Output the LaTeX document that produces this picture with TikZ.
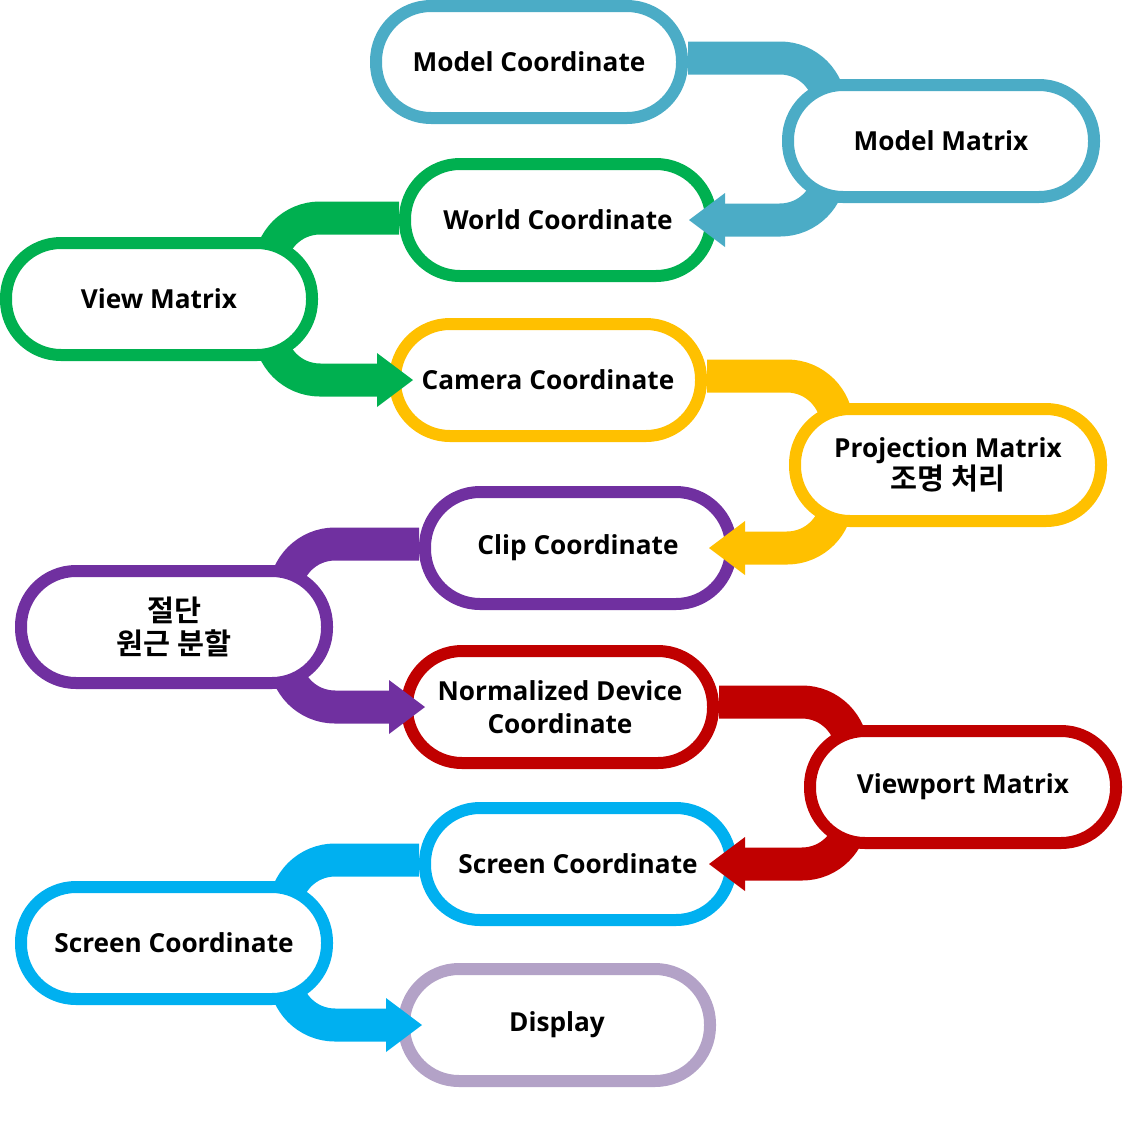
\documentclass[tikz,border=0pt]{standalone}
\usepackage{fontspec}
\setmainfont{Open Sans}
\newfontfamily\krfont{Noto Sans CJK KR}[BoldFont={Noto Sans CJK KR Bold}, Scale=1.12]
\usepackage{tikz}
\usetikzlibrary{arrows.meta}

\definecolor{ModelBlue}{HTML}{4BACC6}
\definecolor{WorldGreen}{HTML}{00B050}
\definecolor{CameraYellow}{HTML}{FFC000}
\definecolor{ClipPurple}{HTML}{7030A0}
\definecolor{DeviceRed}{HTML}{C00000}
\definecolor{ScreenBlue}{HTML}{00B0F0}
\definecolor{DisplayLilac}{HTML}{B3A2C7}

\pgfdeclarelayer{front}
\pgfsetlayers{main,front}

\begin{document}
\begin{tikzpicture}[x=1pt, y=-1pt,
        stage/.style={draw, line width=12pt, fill=white, rounded corners=55pt,
            minimum width=306pt, minimum height=112pt, align=center,
            font=\fontsize{26.2}{32.5}\selectfont\bfseries},
        flow/.style={line width=33pt, rounded corners=50pt,
            -{Triangle[length=36pt, width=54pt, line width=0pt]}}]
        \useasboundingbox (0,0) rectangle (1136,1128);

        \node[stage, draw=ModelBlue] (ModelCoord) at (529,62) {Model Coordinate};
        \node[stage, draw=WorldGreen] (WorldCoord) at (558,220) {World Coordinate};
        \node[stage, draw=CameraYellow] (CameraCoord) at (548,380) {Camera Coordinate};
        \node[stage, draw=ClipPurple] (ClipCoord) at (578,548) {Clip Coordinate};
        \node[stage, draw=DeviceRed] (DeviceCoord) at (560,707) {Normalized Device\\Coordinate};
        \node[stage, draw=ScreenBlue] (ScreenCoord) at (578,864) {Screen Coordinate};
        \node[stage, draw=DisplayLilac] (Display) at (557,1025) {Display};

        \begin{pgfonlayer}{front}
        \node[stage, draw=ModelBlue] (ModelMatrix) at (941,141) {Model Matrix};
        \node[stage, draw=WorldGreen] (ViewMatrix) at (159,299) {View Matrix};
        \node[stage, draw=CameraYellow] (ProjMatrix) at (948,465) {Projection Matrix\\\krfont 조명 처리};
        \node[stage, draw=ClipPurple] (PerspDivide) at (174,627) {\krfont 절단\\\krfont 원근 분할};
        \node[stage, draw=DeviceRed] (ViewportMatrix) at (963,787) {Viewport Matrix};
        \node[stage, draw=ScreenBlue] (ScreenMap) at (174,943) {Screen Coordinate};
        \end{pgfonlayer}

        \draw[flow, ModelBlue] ([yshift=4pt]ModelCoord.east) -| ([xshift=48pt]ModelMatrix.west) |- ([xshift=-28pt]WorldCoord.east);
        \draw[flow, WorldGreen] ([yshift=2pt]WorldCoord.west) -| ([xshift=-48pt]ViewMatrix.east) |- ([xshift=24pt]CameraCoord.west);
        \draw[flow, CameraYellow] ([yshift=4pt]CameraCoord.east) -| ([xshift=48pt]ProjMatrix.west) |- ([xshift=-28pt]ClipCoord.east);
        \draw[flow, ClipPurple] ([yshift=4pt]ClipCoord.west) -| ([xshift=-48pt]PerspDivide.east) |- ([xshift=24pt]DeviceCoord.west);
        \draw[flow, DeviceRed] ([yshift=5pt]DeviceCoord.east) -| ([xshift=48pt]ViewportMatrix.west) |- ([xshift=-28pt]ScreenCoord.east);
        \draw[flow, ScreenBlue] ([yshift=4pt]ScreenCoord.west) -| ([xshift=-48pt]ScreenMap.east) |- ([xshift=24pt]Display.west);

    \end{tikzpicture}
\end{document}
